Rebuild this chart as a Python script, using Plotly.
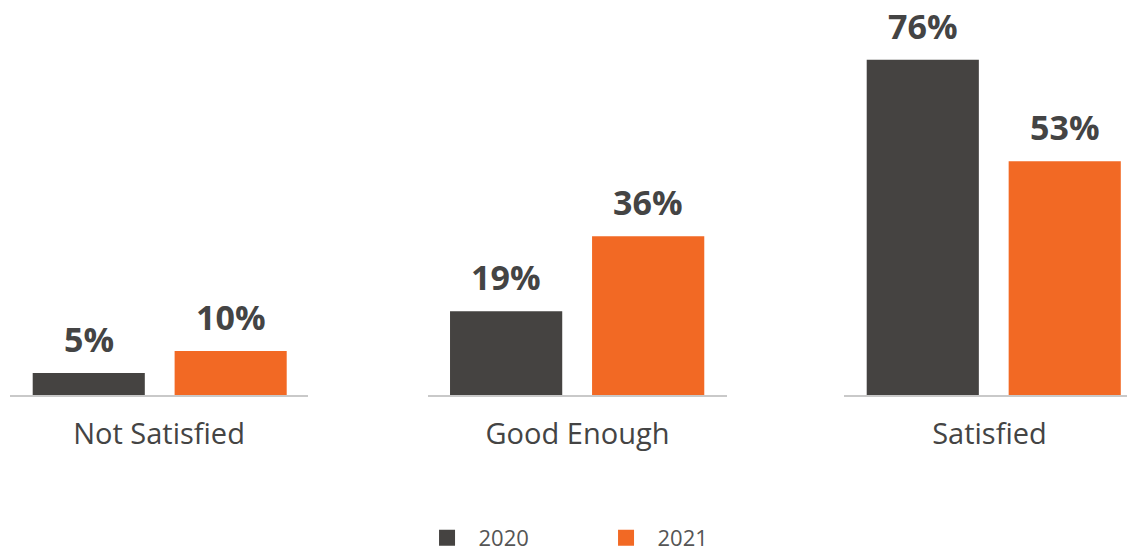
import plotly.graph_objects as go
from plotly.subplots import make_subplots

categories = ["Not Satisfied", "Good Enough", "Satisfied"]
years = ["2020", "2021"]
values_2020 = [5, 19, 76]
values_2021 = [10, 36, 53]
colors = {"2020": "#454341", "2021": "#F26924"}

FONT = "Open Sans"
W_PLOT = 1125.0
domains = [[0, 298 / W_PLOT], [418 / W_PLOT, 717 / W_PLOT], [834 / W_PLOT, 1.0]]
ranges = [[-0.555, 1.545], [-0.55, 1.555], [-0.555, 1.495]]

fig = make_subplots(rows=1, cols=3, shared_yaxes=False)

series = {"2020": values_2020, "2021": values_2021}
for i, cat in enumerate(categories):
    suffix = "" if i == 0 else str(i + 1)
    for j, yr in enumerate(years):
        v = series[yr][i]
        fig.add_trace(
            go.Bar(
                x=[yr], y=[v], name=yr, legendgroup=yr,
                showlegend=False,
                marker=dict(color=colors[yr], line=dict(width=0)),
                width=0.79,
                hoverinfo="skip",
            ),
            row=1, col=i + 1,
        )
        fig.add_annotation(
            x=j, y=v, xref="x" + suffix, yref="y" + suffix,
            text=f"<b>{v}%</b>", showarrow=False, yanchor="bottom", yshift=9,
            font=dict(family=FONT, size=34, color="#444444"),
        )

# legend entries
for yr in years:
    fig.add_trace(
        go.Scatter(
            x=[None], y=[None], mode="markers", name="\u00a0\u00a0" + yr, legendgroup=yr,
            marker=dict(symbol="square", size=22, color=colors[yr]),
            hoverinfo="skip",
        ),
        row=1, col=1,
    )

for i, cat in enumerate(categories):
    xa = "xaxis" if i == 0 else f"xaxis{i + 1}"
    ya = "yaxis" if i == 0 else f"yaxis{i + 1}"
    fig.layout[xa].update(
        type="category", categoryorder="array", categoryarray=years,
        domain=domains[i], range=ranges[i], showticklabels=False, ticks="",
        showgrid=False, zeroline=False, showline=True, linecolor="#C9C9C9", linewidth=2,
        title=dict(text=cat, standoff=28, font=dict(family=FONT, size=29, color="#444444")),
        fixedrange=True,
    )
    fig.layout[ya].update(
        range=[0, 87.3], visible=False, showgrid=False, zeroline=False, fixedrange=True,
    )

fig.update_layout(
    width=1127, height=542,
    margin=dict(l=2, r=0, t=2, b=155, autoexpand=False),
    plot_bgcolor="white", paper_bgcolor="white",
    barmode="overlay",
    legend=dict(
        orientation="h", x=0.3707, xanchor="left", y=-0.371, yanchor="middle",
        font=dict(family=FONT, size=22, color="#555555"),
        entrywidth=134, itemsizing="trace",
    ),
    font=dict(family=FONT),
)

fig.write_html("out.html")
